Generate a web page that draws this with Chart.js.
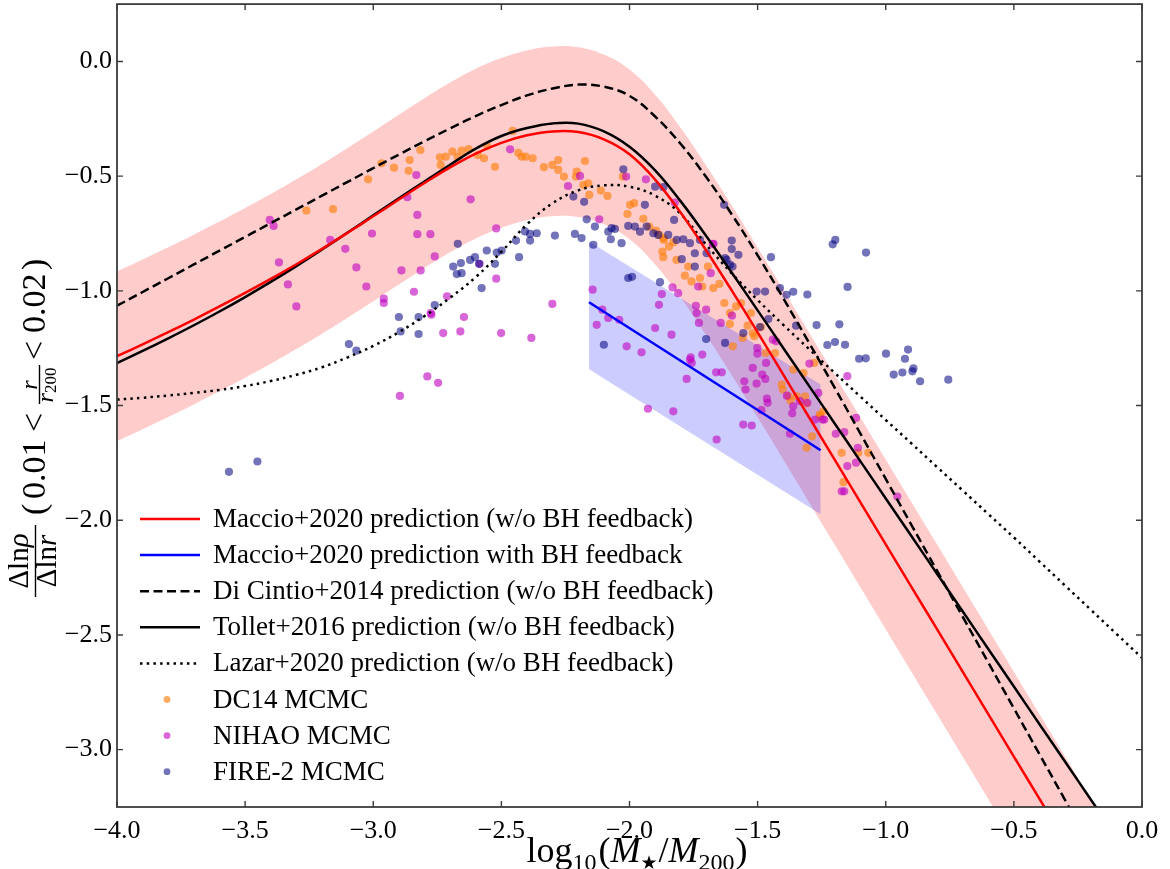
<!DOCTYPE html>
<html><head><meta charset="utf-8">
<script src="https://cdn.jsdelivr.net/npm/chart.js@4.4.1/dist/chart.umd.min.js"></script>
<style>html,body{margin:0;padding:0;background:#fff;}#wrap{width:1170px;height:869px;}</style>
</head><body><div id="wrap"><canvas id="c" width="1170" height="869"></canvas></div>
<script>
// ---------------- data ----------------
const xGrid = [-4.0,-3.9,-3.8,-3.7,-3.6,-3.5,-3.4,-3.3,-3.2,-3.1,-3.0,-2.9,-2.8,-2.7,-2.6,-2.5,-2.4,-2.3,-2.2,-2.1,
  -2.0,-1.9,-1.8,-1.7,-1.6,-1.5,-1.4,-1.3,-1.2,-1.1,-1.0,-0.9,-0.8,-0.7,-0.6,-0.5,-0.4,-0.3,-0.2,-0.1,0.0];
const maccio = [-1.285,-1.233,-1.180,-1.125,-1.068,-1.009,-0.948,-0.884,-0.817,-0.747,
  -0.675,-0.602,-0.530,-0.462,-0.402,-0.355,-0.322,-0.305,-0.308,-0.340,
  -0.405,-0.515,-0.660,-0.825,-1.000,-1.181,-1.365,-1.550,-1.735,-1.920,
  -2.105,-2.290,-2.475,-2.660,-2.845,-3.030,-3.215,-3.400,-3.585,-3.770,-3.955];
const maccioUpper = [-0.915,-0.863,-0.810,-0.755,-0.698,-0.639,-0.578,-0.514,-0.447,-0.377,
  -0.305,-0.232,-0.160,-0.092,-0.032,0.015,0.048,0.065,0.062,0.030,
  -0.035,-0.145,-0.290,-0.455,-0.630,-0.811,-0.995,-1.180,-1.365,-1.550,
  -1.735,-1.920,-2.105,-2.290,-2.475,-2.660,-2.845,-3.030,-3.215,-3.400,-3.585];
const maccioLower = [-1.655,-1.603,-1.550,-1.495,-1.438,-1.379,-1.318,-1.254,-1.187,-1.117,
  -1.045,-0.972,-0.900,-0.832,-0.772,-0.725,-0.692,-0.675,-0.678,-0.710,
  -0.775,-0.885,-1.030,-1.195,-1.370,-1.551,-1.735,-1.920,-2.105,-2.290,
  -2.475,-2.660,-2.845,-3.030,-3.215,-3.400,-3.585,-3.770,-3.955,-4.140,-4.325];
const tollet = [-1.315,-1.262,-1.207,-1.150,-1.090,-1.027,-0.961,-0.892,-0.820,-0.746,
  -0.671,-0.596,-0.523,-0.450,-0.380,-0.325,-0.290,-0.270,-0.271,-0.305,
  -0.372,-0.475,-0.610,-0.762,-0.922,-1.085,-1.249,-1.413,-1.577,-1.741,
  -1.905,-2.069,-2.233,-2.397,-2.561,-2.725,-2.889,-3.053,-3.217,-3.381,-3.545];
const diCintio = [-1.065,-1.005,-0.945,-0.885,-0.825,-0.765,-0.705,-0.645,-0.585,-0.525,
  -0.465,-0.406,-0.348,-0.292,-0.238,-0.190,-0.148,-0.118,-0.101,-0.110,
  -0.150,-0.240,-0.360,-0.505,-0.668,-0.845,-1.032,-1.225,-1.421,-1.620,
  -1.820,-2.020,-2.220,-2.420,-2.620,-2.820,-3.020,-3.220,-3.420,-3.620,-3.820];
const lazar = [-1.474,-1.466,-1.456,-1.445,-1.432,-1.415,-1.393,-1.366,-1.333,-1.290,
  -1.240,-1.180,-1.110,-1.030,-0.940,-0.830,-0.710,-0.618,-0.562,-0.540,
  -0.546,-0.585,-0.665,-0.800,-0.925,-1.040,-1.148,-1.253,-1.357,-1.460,
  -1.563,-1.665,-1.768,-1.870,-1.973,-2.075,-2.180,-2.285,-2.390,-2.495,-2.600];
const bhX = [-2.158, -1.254];
const bhLine = [-1.050, -1.695];
const bhUpper = [-0.785, -1.408];
const bhLower = [-1.342, -1.974];

const dc14 = [[-3.261,-0.650],[-3.157,-0.644],[-3.020,-0.514],[-2.968,-0.444],[-2.919,-0.463],[-2.858,-0.430],[-2.862,-0.477],
 [-2.816,-0.386],[-2.740,-0.418],[-2.737,-0.451],[-2.717,-0.415],[-2.691,-0.393],[-2.671,-0.415],[-2.655,-0.389],[-2.628,-0.382],
 [-2.592,-0.408],[-2.568,-0.422],[-2.525,-0.459],[-2.555,-0.369],[-2.456,-0.303],[-2.434,-0.398],[-2.421,-0.415],[-2.405,-0.415],
 [-2.378,-0.422],[-2.334,-0.461],[-2.301,-0.451],[-2.278,-0.430],[-2.278,-0.473],[-2.256,-0.502],[-2.206,-0.480],[-2.174,-0.434],
 [-2.209,-0.502],[-2.180,-0.538],[-2.161,-0.531],[-2.157,-0.582],[-2.112,-0.563],[-2.086,-0.586],[-2.026,-0.502],[-2.008,-0.665],
 [-1.998,-0.625],[-1.982,-0.618],[-1.946,-0.686],[-1.923,-0.720],[-1.897,-0.737],[-1.884,-0.756],[-1.868,-0.770],[-1.829,-0.789],
 [-1.866,-0.778],[-1.846,-0.807],[-1.872,-0.829],[-1.868,-0.853],[-1.817,-0.865],[-1.771,-0.894],[-1.784,-0.934],[-1.758,-0.959],
 [-1.725,-0.944],[-1.716,-0.981],[-1.673,-0.988],[-1.649,-0.970],[-1.694,-0.894],[-1.630,-1.053],[-1.584,-1.068],[-1.608,-1.097],
 [-1.565,-1.053],[-1.526,-1.097],[-1.608,-1.145],[-1.539,-1.152],[-1.519,-1.184],[-1.487,-1.158],[-1.513,-1.198],[-1.597,-1.242],
 [-1.558,-1.205],[-1.469,-1.271],[-1.432,-1.271],[-1.406,-1.409],[-1.402,-1.430],[-1.361,-1.343],[-1.347,-1.460],[-1.315,-1.460],
 [-1.321,-1.358],[-1.379,-1.460],[-1.309,-1.684],[-1.287,-1.634],[-1.257,-1.547],[-1.279,-1.314],[-1.172,-1.706],[-1.107,-1.706],
 [-1.068,-1.706],[-1.165,-1.834],[-1.243,-1.525],[-1.372,-1.478],[-1.309,-1.491],[-1.257,-1.539]];

const nihao = [[-3.404,-0.691],[-3.389,-0.717],[-3.368,-0.876],[-3.333,-0.972],[-3.300,-1.068],[-3.168,-0.778],[-3.109,-0.817],
 [-3.066,-0.898],[-3.027,-0.981],[-3.005,-0.750],[-2.959,-1.034],[-2.959,-1.053],[-2.890,-0.911],[-2.841,-1.004],[-2.832,-0.495],
 [-2.828,-0.669],[-2.828,-0.753],[-2.867,-0.592],[-2.777,-0.753],[-2.815,-0.911],[-2.760,-0.850],[-2.789,-1.373],[-2.896,-1.458],
 [-2.747,-1.401],[-2.773,-1.104],[-2.712,-1.024],[-2.776,-1.097],[-2.727,-1.184],[-2.660,-1.177],[-2.646,-1.114],[-2.620,-0.601],
 [-2.585,-0.882],[-2.520,-0.947],[-2.520,-0.728],[-2.501,-1.184],[-2.466,-0.383],[-2.383,-1.205],[-2.301,-1.057],[-2.193,-0.499],
 [-2.118,-0.688],[-2.144,-0.995],[-2.040,-1.126],[-2.083,-1.118],[-2.013,-0.502],[-1.936,-0.514],[-1.874,-1.014],[-1.885,-1.061],
 [-1.832,-0.985],[-1.836,-1.191],[-1.900,-1.162],[-2.011,-1.242],[-1.953,-1.268],[-1.764,-1.300],[-1.738,-1.097],[-1.741,-1.065],
 [-1.732,-0.981],[-2.128,-1.148],[-2.240,-0.543],[-1.823,-0.615],[-1.672,-0.795],[-2.106,-1.082],[-1.810,-1.010],[-1.928,-1.514],
 [-1.829,-1.525],[-1.777,-1.384],[-1.761,-1.290],[-1.716,-1.278],[-1.757,-1.314],[-1.701,-1.082],[-1.729,-1.140],[-1.675,-0.796],
 [-1.683,-0.923],[-1.644,-1.140],[-1.600,-1.108],[-1.662,-1.355],[-1.640,-1.355],[-1.660,-1.648],[-1.556,-1.583],[-1.523,-1.587],
 [-1.552,-1.394],[-1.547,-1.430],[-1.504,-1.404],[-1.519,-1.336],[-1.501,-1.274],[-1.482,-1.365],[-1.470,-1.384],[-1.501,-1.249],
 [-1.467,-1.314],[-1.441,-1.213],[-1.428,-1.220],[-1.464,-1.470],[-1.461,-1.488],[-1.485,-1.520],[-1.386,-1.457],[-1.361,-1.503],
 [-1.365,-1.534],[-1.335,-1.481],[-1.306,-1.488],[-1.263,-1.445],[-1.374,-1.623],[-1.276,-1.561],[-1.247,-1.561],[-1.298,-1.317],
 [-1.195,-1.623],[-1.162,-1.616],[-1.150,-1.764],[-1.116,-1.554],[-1.109,-1.684],[-1.116,-1.749],[-1.172,-1.874],[-1.162,-1.874],
 [-1.150,-1.372],[-0.955,-1.897],[-1.240,-1.561]];

const fire2 = [[-3.563,-1.789],[-3.452,-1.744],[-3.095,-1.232],[-3.066,-1.261],[-2.900,-1.114],[-2.893,-1.177],[-2.823,-1.114],
 [-2.823,-1.188],[-2.760,-1.062],[-2.688,-0.894],[-2.655,-0.923],[-2.674,-0.927],[-2.658,-0.879],[-2.622,-0.865],[-2.603,-0.853],
 [-2.587,-0.882],[-2.577,-0.988],[-2.557,-0.824],[-2.525,-0.882],[-2.518,-0.833],[-2.499,-0.824],[-2.431,-0.853],[-2.443,-0.781],
 [-2.408,-0.741],[-2.388,-0.752],[-2.388,-0.781],[-2.362,-0.749],[-2.291,-0.759],[-2.213,-0.752],[-2.187,-0.770],[-2.141,-0.799],
 [-2.135,-0.720],[-2.670,-0.795],[-2.219,-0.589],[-2.177,-0.612],[-2.167,-0.688],[-2.024,-0.470],[-1.940,-0.625],[-1.900,-0.546],
 [-1.868,-0.548],[-1.826,-0.691],[-1.631,-0.625],[-1.601,-0.781],[-2.083,-0.742],[-2.070,-0.727],[-2.057,-0.730],[-2.031,-0.792],
 [-2.005,-0.717],[-1.979,-0.720],[-1.959,-0.742],[-1.933,-0.720],[-1.907,-0.749],[-1.888,-0.756],[-1.849,-0.756],[-1.816,-0.778],
 [-1.790,-0.775],[-1.764,-0.792],[-1.745,-0.836],[-1.725,-0.778],[-1.699,-0.836],[-1.796,-0.862],[-1.745,-0.894],[-1.621,-0.865],
 [-1.598,-0.894],[-2.005,-0.944],[-1.990,-0.939],[-1.881,-0.962],[-2.100,-1.235],[-1.601,-0.818],[-1.575,-0.843],[-1.627,-0.857],
 [-1.608,-0.886],[-1.448,-0.853],[-1.413,-0.988],[-1.387,-1.017],[-1.361,-1.004],[-1.504,-1.003],[-1.471,-1.003],[-1.458,-1.123],
 [-1.491,-1.158],[-1.350,-1.152],[-1.556,-1.184],[-1.627,-1.227],[-1.701,-1.210],[-1.306,-1.016],[-1.270,-1.149],[-1.228,-1.236],
 [-1.198,-1.223],[-1.159,-1.235],[-1.181,-1.146],[-1.149,-0.983],[-1.207,-0.797],[-1.197,-0.778],[-1.077,-0.833],[-1.104,-1.296],
 [-1.078,-1.294],[-0.999,-1.274],[-0.913,-1.256],[-0.925,-1.296],[-0.969,-1.365],[-0.935,-1.356],[-0.896,-1.351],[-0.892,-1.338],
 [-0.866,-1.394],[-0.756,-1.387],[-2.073,-0.775]];

const xTicks = [-4.0,-3.5,-3.0,-2.5,-2.0,-1.5,-1.0,-0.5,0.0];
const yTicks = [-3.0,-2.5,-2.0,-1.5,-1.0,-0.5,0.0];

const COL_RED = '#ff0000', COL_BLUE = '#0000ff';
const COL_DC14 = 'rgba(255,127,14,0.65)', COL_NIHAO = 'rgba(191,0,191,0.6)', COL_FIRE = 'rgba(0,0,128,0.55)';
const legendRows = [
  {kind:'line', color:COL_RED, dash:[], text:'Maccio+2020 prediction (w/o BH feedback)'},
  {kind:'line', color:COL_BLUE, dash:[], text:'Maccio+2020 prediction with BH feedback'},
  {kind:'line', color:'#000', dash:[9,4.5], text:'Di Cintio+2014 prediction (w/o BH feedback)'},
  {kind:'line', color:'#000', dash:[], text:'Tollet+2016 prediction (w/o BH feedback)'},
  {kind:'line', color:'#000', dash:[2.5,4.2], text:'Lazar+2020 prediction (w/o BH feedback)'},
  {kind:'dot', color:COL_DC14, text:'DC14 MCMC'},
  {kind:'dot', color:COL_NIHAO, text:'NIHAO MCMC'},
  {kind:'dot', color:COL_FIRE, text:'FIRE-2 MCMC'}
];

// ---------------- helpers ----------------
const SERIF = '"Liberation Serif", "Times New Roman", serif';
const curve = arr => xGrid.map((x, i) => ({x, y: arr[i]}));
const pts = arr => arr.map(p => ({x: p[0], y: p[1]}));
const fmt = v => (v < 0 ? '\u2212' : '') + Math.abs(v).toFixed(1);

function drawRuns(ctx, runs, x, y, align) {
  let total = 0;
  runs.forEach(r => { ctx.font = r[1]; total += ctx.measureText(r[0]).width + (r[3] || 0); });
  let cx = align === 'center' ? x - total / 2 : x;
  runs.forEach(r => { ctx.font = r[1]; ctx.fillText(r[0], cx, y + (r[2] || 0)); cx += ctx.measureText(r[0]).width + (r[3] || 0); });
}

const decor = {
  id: 'decor',
  afterDraw(chart) {
    const ctx = chart.ctx, a = chart.chartArea, xs = chart.scales.x, ys = chart.scales.y;
    ctx.save();
    // frame + inward ticks
    ctx.strokeStyle = '#3c3c3c'; ctx.lineWidth = 1.8; ctx.setLineDash([]);
    ctx.strokeRect(a.left, a.top, a.right - a.left, a.bottom - a.top);
    ctx.lineWidth = 1.4;
    ctx.beginPath();
    xTicks.forEach(v => { const px = xs.getPixelForValue(v);
      ctx.moveTo(px, a.bottom); ctx.lineTo(px, a.bottom - 6); ctx.moveTo(px, a.top); ctx.lineTo(px, a.top + 6); });
    yTicks.forEach(v => { const py = ys.getPixelForValue(v);
      ctx.moveTo(a.left, py); ctx.lineTo(a.left + 6, py); ctx.moveTo(a.right, py); ctx.lineTo(a.right - 6, py); });
    ctx.stroke();

    // legend
    ctx.fillStyle = '#000'; ctx.textBaseline = 'middle'; ctx.textAlign = 'left';
    legendRows.forEach((r, i) => {
      const y = 519 + i * 36.1;
      if (r.kind === 'line') {
        ctx.strokeStyle = r.color; ctx.lineWidth = 2.5; ctx.setLineDash(r.dash); ctx.lineCap = 'butt';
        ctx.beginPath(); ctx.moveTo(140, y); ctx.lineTo(200, y); ctx.stroke(); ctx.setLineDash([]);
      } else {
        ctx.fillStyle = r.color; ctx.beginPath(); ctx.arc(167, y, 3.4, 0, Math.PI * 2); ctx.fill();
      }
      ctx.fillStyle = '#000'; ctx.font = '27px ' + SERIF; ctx.fillText(r.text, 213, y + 1);
    });

    // x axis label
    ctx.textBaseline = 'alphabetic'; ctx.textAlign = 'left';
    const R = s => s + 'px ' + SERIF, I = s => 'italic ' + s + 'px ' + SERIF;
    drawRuns(ctx, [['log', R(36)], ['10', R(24), 8, 2], ['(', R(36)], ['M', I(36)], ['\u2605', '19px "DejaVu Sans"', 7, 1],
      ['/', R(36)], ['M', I(36)], ['200', R(24), 8, 1], [')', R(36)]], 637, 862, 'center');

    // y axis label (rotated)
    ctx.save();
    ctx.translate(45, 603); ctx.rotate(-Math.PI / 2);
    ctx.fillStyle = '#000';
    drawRuns(ctx, [['\u0394ln', R(29)], ['\u03c1', I(29)]], 42, -17, 'center');
    drawRuns(ctx, [['\u0394ln', R(29)], ['r', I(29)]], 42, 11, 'center');
    ctx.strokeStyle = '#000'; ctx.lineWidth = 1.4;
    ctx.beginPath(); ctx.moveTo(6, -9.5); ctx.lineTo(78, -9.5); ctx.stroke();
    ctx.font = R(34);
    ctx.fillText('(', 88, 0);
    ctx.fillText('0.01', 104, 0);
    ctx.fillText('<', 171, 0);
    drawRuns(ctx, [['r', I(24)]], 218, -8.5, 'center');
    ctx.beginPath(); ctx.moveTo(199, -5.5); ctx.lineTo(238, -5.5); ctx.stroke();
    drawRuns(ctx, [['r', I(24)], ['200', R(17), 3]], 218, 8, 'center');
    ctx.font = R(34);
    ctx.fillText('<', 243, 0);
    ctx.fillText('0.02', 270, 0);
    ctx.fillText(')', 333, 0);
    ctx.restore();
    ctx.restore();
  }
};

const lineDS = (label, data, color, dash, order) => ({
  type: 'line', label, data: curve(data), borderColor: color, borderWidth: 2.5, borderDash: dash,
  pointRadius: 0, fill: false, tension: 0.4, order
});
const scatterDS = (label, data, color, order) => ({
  type: 'scatter', label, data: pts(data), backgroundColor: color, borderWidth: 0, pointRadius: 4.1,
  pointHoverRadius: 4.1, order
});

new Chart(document.getElementById('c'), {
  type: 'scatter',
  data: {
    datasets: [
      {type: 'line', label: 'band up', data: curve(maccioUpper), borderWidth: 0, pointRadius: 0,
        backgroundColor: 'rgba(255,0,0,0.2)', fill: '+1', tension: 0.4, order: 30},
      {type: 'line', label: 'band low', data: curve(maccioLower), borderWidth: 0, pointRadius: 0,
        fill: false, tension: 0.4, order: 31},
      {type: 'line', label: 'bh up', data: bhX.map((x, i) => ({x, y: bhUpper[i]})), borderWidth: 0, pointRadius: 0,
        backgroundColor: 'rgba(0,0,255,0.2)', fill: '+1', order: 29},
      {type: 'line', label: 'bh low', data: bhX.map((x, i) => ({x, y: bhLower[i]})), borderWidth: 0, pointRadius: 0,
        fill: false, order: 32},
      scatterDS('DC14 MCMC', dc14, COL_DC14, 20),
      scatterDS('NIHAO MCMC', nihao, COL_NIHAO, 19),
      scatterDS('FIRE-2 MCMC', fire2, COL_FIRE, 18),
      lineDS('Lazar+2020', lazar, '#000', [2.5, 4.2], 5),
      lineDS('Tollet+2016', tollet, '#000', [], 4),
      lineDS('Di Cintio+2014', diCintio, '#000', [9, 4.5], 3),
      {type: 'line', label: 'Maccio BH', data: bhX.map((x, i) => ({x, y: bhLine[i]})), borderColor: COL_BLUE,
        borderWidth: 2.5, pointRadius: 0, fill: false, order: 2},
      lineDS('Maccio+2020', maccio, COL_RED, [], 1)
    ]
  },
  options: {
    responsive: false, animation: false, devicePixelRatio: 1,
    layout: {padding: {top: 4, right: 28, left: 0, bottom: 0}},
    plugins: {legend: {display: false}, tooltip: {enabled: false}},
    events: [],
    scales: {
      x: {type: 'linear', min: -4, max: 0,
        afterBuildTicks: s => { s.ticks = xTicks.map(v => ({value: v})); },
        afterFit: s => { s.height = 62; s.paddingLeft = 0; s.paddingRight = 0; },
        grid: {display: false, drawTicks: false}, border: {display: false},
        ticks: {callback: fmt, font: {family: SERIF, size: 26}, color: '#000', padding: 9, maxRotation: 0, autoSkip: false}},
      y: {type: 'linear', min: -3.25, max: 0.25,
        afterBuildTicks: s => { s.ticks = yTicks.map(v => ({value: v})); },
        afterFit: s => { s.width = 117; s.paddingTop = 0; s.paddingBottom = 0; },
        grid: {display: false, drawTicks: false}, border: {display: false},
        ticks: {callback: fmt, font: {family: SERIF, size: 26}, color: '#000', padding: 5, autoSkip: false}}
    }
  },
  plugins: [decor]
});
</script></body></html>
